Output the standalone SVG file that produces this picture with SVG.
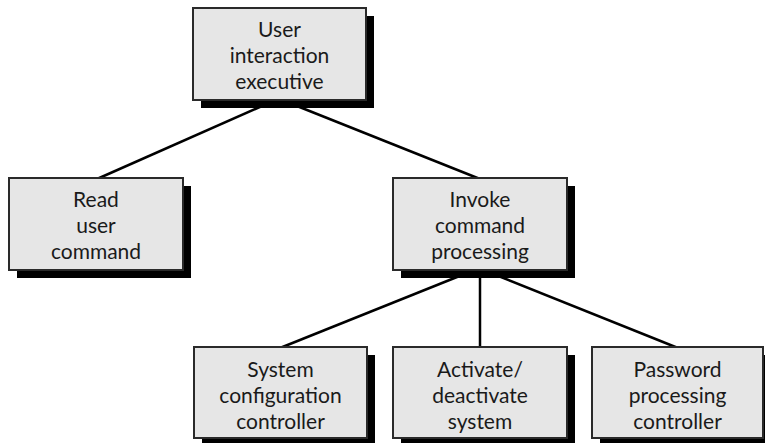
<svg xmlns="http://www.w3.org/2000/svg" width="765" height="443" viewBox="0 0 765 443">
<style>
.sh{fill:#000}
.bx{fill:#e6e6e6;stroke:#2a2a2a;stroke-width:2}
.t{font-family:Lato,"Liberation Sans",sans-serif;font-size:21px;fill:#1a1a1a;text-anchor:middle}
.c{stroke:#000;stroke-width:2.5;fill:none}
</style>
<rect width="765" height="443" fill="#fff"/>
<g id="connectors">
<line class="c" x1="262" y1="106" x2="97" y2="179"/>
<line class="c" x1="297" y1="106" x2="480" y2="179"/>
<line class="c" x1="462" y1="275" x2="280" y2="348"/>
<line class="c" x1="480" y1="275" x2="480" y2="348"/>
<line class="c" x1="496" y1="275" x2="678" y2="348"/>
</g>
<g id="n-user-interaction-executive">
<rect class="sh" x="201" y="16" width="173" height="92"/>
<rect class="bx" x="193" y="8" width="173" height="92"/>
<text class="t" x="279.5" y="37">User</text>
<text class="t" x="279.5" y="63">interaction</text>
<text class="t" x="279.5" y="89">executive</text>
</g>
<g id="n-read-user-command">
<rect class="sh" x="17" y="186" width="174" height="92"/>
<rect class="bx" x="9" y="178" width="174" height="92"/>
<text class="t" x="96" y="207">Read</text>
<text class="t" x="96" y="233">user</text>
<text class="t" x="96" y="259">command</text>
</g>
<g id="n-invoke-command-processing">
<rect class="sh" x="401" y="186" width="174" height="92"/>
<rect class="bx" x="393" y="178" width="174" height="92"/>
<text class="t" x="480" y="207">Invoke</text>
<text class="t" x="480" y="233">command</text>
<text class="t" x="480" y="259">processing</text>
</g>
<g id="n-system-configuration-controller">
<rect class="sh" x="202" y="355" width="173" height="91"/>
<rect class="bx" x="194" y="347" width="173" height="91"/>
<text class="t" x="280.5" y="377">System</text>
<text class="t" x="280.5" y="403">configuration</text>
<text class="t" x="280.5" y="429">controller</text>
</g>
<g id="n-activate-deactivate-system">
<rect class="sh" x="401" y="355" width="174" height="91"/>
<rect class="bx" x="393" y="347" width="174" height="91"/>
<text class="t" x="480" y="377">Activate/</text>
<text class="t" x="480" y="403">deactivate</text>
<text class="t" x="480" y="429">system</text>
</g>
<g id="n-password-processing-controller">
<rect class="sh" x="600" y="355" width="171" height="91"/>
<rect class="bx" x="592" y="347" width="171" height="91"/>
<text class="t" x="677.5" y="377">Password</text>
<text class="t" x="677.5" y="403">processing</text>
<text class="t" x="677.5" y="429">controller</text>
</g>
</svg>
